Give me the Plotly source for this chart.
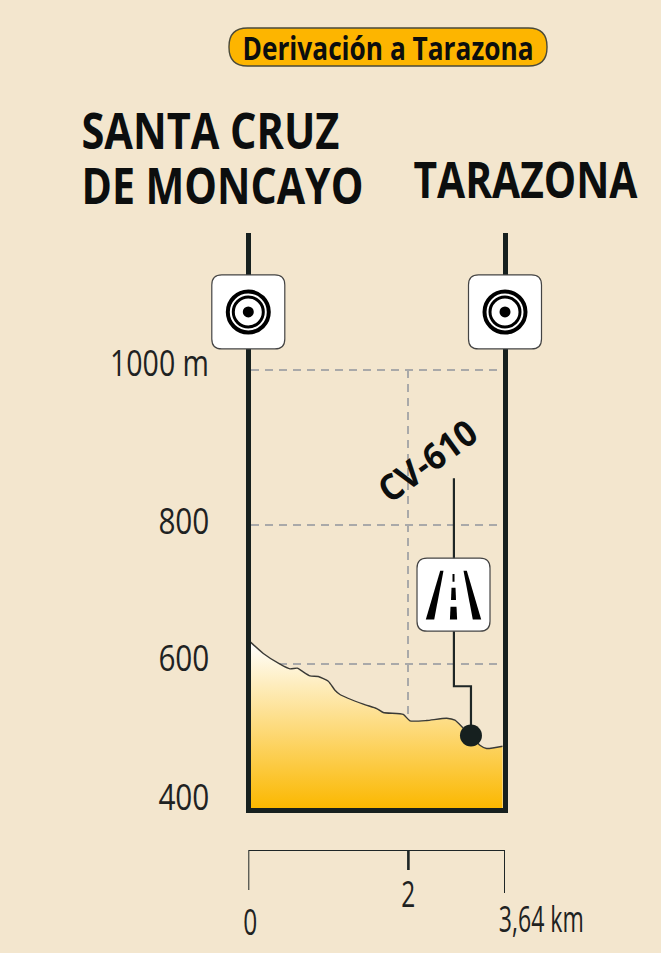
import json
import plotly.graph_objects as go

W, H = 661, 953
BG = "#F3E6CE"
DARK = "#16201F"
FONT = "Open Sans"

# Elevation profile (km, m)
PROFILE_KM = [0, 0.185, 0.426, 0.57, 0.675, 0.739, 0.859, 0.978, 1.123, 1.219, 1.291, 1.628,
              1.821, 1.916, 2.205, 2.302, 2.543, 2.831, 2.951, 3.071, 3.182, 3.311, 3.408, 3.64]
PROFILE_M = [630, 614.6, 600, 593.6, 594.6, 590.9, 584, 583.3, 576.9, 564.6, 558.8, 545.6,
             539.7, 534.3, 531.6, 522.9, 523.4, 526.5, 523.8, 512.9, 503, 489.8, 485.3, 488.4]

# Height gridlines and labels
GRID_M = [1000, 789, 600]
HEIGHT_LABELS = ["1000 m", "800", "600", "400"]
HEIGHT_LABEL_M = [1000, 789, 600, 404]
HEIGHT_LABEL_SHIFT = [8, 5, 7, 12]
HEIGHT_LABEL_PX = [159, 183.5, 183.5, 183.5]

# Distance scale
SCALE_KM = [0, 2.27, 3.64]
SCALE_LABELS = ["0", "2", "3,64 km"]
SCALE_DROP = [40, 20, 43]
SCALE_LABEL_DROP = [71, 43, 68]
SCALE_LABEL_SHIFT = [2, 0, 36.5]
VERTICAL_GRID_KM = 2.273
VERTICAL_GRID_M = [1000, 524]

# Towns and road callout
TOWN_PX = [248.3, 505]
TOWN_SIGN_M = 1079
ROAD_LABEL = "CV-610"
CALLOUT_KM = [2.936, 2.936, 3.182, 3.182]
CALLOUT_M = [853, 570, 570, 503]
ROAD_SIGN_KM = 2.93
ROAD_SIGN_M = 694.5
TITLE = "Derivación a Tarazona"

# Text widths in the reference, used to condense the installed font to the same look
TEXT_WIDTH = {"SANTA CRUZ": 258, "DE MONCAYO": 282, "TARAZONA": 224, TITLE: 291, ROAD_LABEL: 112,
              "1000 m": 99, "800": 51, "600": 51, "400": 51, "0": 14, "2": 14, "3,64 km": 85}

# Pixel layout of the plot regions
PX_L, PX_R, PX_T, PX_B = 250.5, 502.7, 233, 808.3
S_L, S_R, S_T, S_B = 248.3, 505, 850, 945


def rounded(hw, hh, r):
    return (f"M {-hw + r} {-hh} L {hw - r} {-hh} Q {hw} {-hh} {hw} {-hh + r} "
            f"L {hw} {hh - r} Q {hw} {hh} {hw - r} {hh} L {-hw + r} {hh} "
            f"Q {-hw} {hh} {-hw} {hh - r} L {-hw} {-hh + r} Q {-hw} {-hh} {-hw + r} {-hh} Z")


def anchored(x, y, path, fill, line_w=0, line_c="#333333", xref="x", yref="y"):
    return dict(type="path", xref=xref, yref=yref, xsizemode="pixel", ysizemode="pixel",
                xanchor=x, yanchor=y, path=path, fillcolor=fill,
                line=dict(width=line_w, color=line_c), layer="above")


def ring(x, y, r, fill, line_w=0):
    return dict(type="circle", xref="paper", yref="y", xsizemode="pixel", ysizemode="pixel",
                xanchor=x, yanchor=y, x0=-r, x1=r, y0=-r, y1=r, fillcolor=fill,
                line=dict(width=line_w, color="#000000"), layer="above")


fig = go.Figure()

# Vertical grid line
fig.add_trace(go.Scatter(x=[VERTICAL_GRID_KM, VERTICAL_GRID_KM], y=VERTICAL_GRID_M, mode="lines",
                         line=dict(color="#A9A9A9", width=2, dash="8px,6px"),
                         hoverinfo="skip", showlegend=False))
# Profile with gradient fill
fig.add_trace(go.Scatter(
    x=PROFILE_KM, y=PROFILE_M, mode="lines", line=dict(color="#3A3A36", width=1.4, shape="spline", smoothing=0.5),
    fill="tozeroy",
    fillgradient=dict(type="vertical", start=630, stop=404,
                      colorscale=[[0, "#FFFFFF"], [1, "#FBB800"]]),
    hoverinfo="skip", showlegend=False))
# Callout line and dot
fig.add_trace(go.Scatter(x=CALLOUT_KM, y=CALLOUT_M, mode="lines", cliponaxis=False,
                         line=dict(color="#1E2626", width=2.2),
                         hoverinfo="skip", showlegend=False))
fig.add_trace(go.Scatter(x=CALLOUT_KM[-1:], y=CALLOUT_M[-1:], mode="markers",
                         marker=dict(color=DARK, size=22), hoverinfo="skip", showlegend=False))
# Distance scale
fig.add_trace(go.Scatter(x=[SCALE_KM[0], SCALE_KM[0], SCALE_KM[2], SCALE_KM[2]],
                         y=[SCALE_DROP[0], 0, 0, SCALE_DROP[2]], mode="lines", cliponaxis=False,
                         line=dict(color="#1E2626", width=2), xaxis="x2", yaxis="y2",
                         hoverinfo="skip", showlegend=False))
fig.add_trace(go.Scatter(x=[SCALE_KM[1], SCALE_KM[1]], y=[0, SCALE_DROP[1]], mode="lines", cliponaxis=False,
                         line=dict(color="#1E2626", width=2.6), xaxis="x2", yaxis="y2",
                         hoverinfo="skip", showlegend=False))

shapes = [anchored(388 / W, 1 - 47 / H, rounded(159, 19, 18.5), "#FDB500", 1.4, "#4A4A3A", "paper", "paper")]
for px in TOWN_PX:
    x = px / W
    shapes.append(anchored(x, TOWN_SIGN_M, rounded(36.5, 37, 10), "#FFFFFF", 1.2, "#444444", "paper"))
    shapes.append(ring(x, TOWN_SIGN_M, 20.5, "rgba(0,0,0,0)", 4))
    shapes.append(ring(x, TOWN_SIGN_M, 15, "rgba(0,0,0,0)", 3))
    shapes.append(ring(x, TOWN_SIGN_M, 5.5, "#000000"))
shapes.append(anchored(ROAD_SIGN_KM, ROAD_SIGN_M, rounded(36.5, 36.5, 10), "#FFFFFF", 1.2, "#444444"))
for path in ["M -13.3 24 L -10 24 L -19.3 -24.7 L -27.7 -24.7 Z",
             "M 10 24 L 13.3 24 L 27.7 -24.7 L 19.3 -24.7 Z",
             "M -1 20.7 L 1 20.7 L 1 13 L -1 13 Z",
             "M -2 7 L 2 7 L 2.5 -5.3 L -2.5 -5.3 Z",
             "M -3 -12 L 3 -12 L 3.6 -24.7 L -3.6 -24.7 Z"]:
    shapes.append(anchored(ROAD_SIGN_KM, ROAD_SIGN_M, path, "#000000"))

ann = []


def label(text, px, py, size, angle=0):
    ann.append(dict(text=text, xref="paper", yref="paper", x=px / W, y=1 - py / H,
                    xanchor="center", yanchor="middle", showarrow=False, textangle=angle,
                    font=dict(family=FONT, size=size, color="#0C0E0E", weight=700)))


label(TITLE, 388, 48, 33)
label("SANTA CRUZ", 210, 130, 50)
label("DE MONCAYO", 222, 185, 50)
label("TARAZONA", 525.5, 179, 50)
label(ROAD_LABEL, 427, 460, 36, angle=-36)

for text, m, shift, px in zip(HEIGHT_LABELS, HEIGHT_LABEL_M, HEIGHT_LABEL_SHIFT, HEIGHT_LABEL_PX):
    ann.append(dict(text=text, xref="paper", yref="y", x=px / W, y=m, yshift=shift,
                    xanchor="center", yanchor="middle", showarrow=False,
                    font=dict(family=FONT, size=36, color="#1E2222")))
for text, km, drop, shift in zip(SCALE_LABELS, SCALE_KM, SCALE_LABEL_DROP, SCALE_LABEL_SHIFT):
    ann.append(dict(text=text, xref="x2", yref="y2", x=km, y=drop, xanchor="center", yanchor="middle",
                    xshift=shift, showarrow=False,
                    font=dict(family=FONT, size=36, color="#1E2222")))

fig.update_layout(
    width=W, height=H, autosize=False, margin=dict(l=0, r=0, t=0, b=0),
    paper_bgcolor=BG, plot_bgcolor="rgba(0,0,0,0)", showlegend=False,
    shapes=shapes, annotations=ann,
    xaxis=dict(domain=[PX_L / W, PX_R / W], range=[0, 3.64], showgrid=False, zeroline=False,
               showticklabels=False, ticks="", showline=True, linewidth=5, linecolor=DARK, fixedrange=True),
    yaxis=dict(domain=[1 - PX_B / H, 1 - PX_T / H], range=[404, 1186.4], tickvals=GRID_M, showticklabels=False,
               ticks="", showgrid=True, gridcolor="#A9A9A9", gridwidth=2, griddash="8px,6px",
               zeroline=False, showline=True, linewidth=5, linecolor=DARK, mirror=True, fixedrange=True),
    xaxis2=dict(domain=[S_L / W, S_R / W], range=[0, 3.64], anchor="y2", visible=False, fixedrange=True),
    yaxis2=dict(domain=[1 - S_B / H, 1 - S_T / H], range=[S_B - S_T, 0], anchor="x2", visible=False,
                fixedrange=True),
)

post = """
document.body.style.margin='0';
var widths = %s;
document.querySelectorAll('.annotation-text').forEach(function (t) {
  var w = widths[t.textContent];
  if (!w) return;
  t.setAttribute('textLength', w);
  t.setAttribute('lengthAdjust', 'spacingAndGlyphs');
  var g = t.closest('.annotation');
  var bg = g && g.querySelector('rect.bg');
  if (bg) {
    var b = t.getBBox();
    bg.setAttribute('x', b.x);
    bg.setAttribute('width', b.width);
  }
});
""" % json.dumps(TEXT_WIDTH, ensure_ascii=False)

fig.write_html("out.html", post_script=post, config={"displayModeBar": False})
